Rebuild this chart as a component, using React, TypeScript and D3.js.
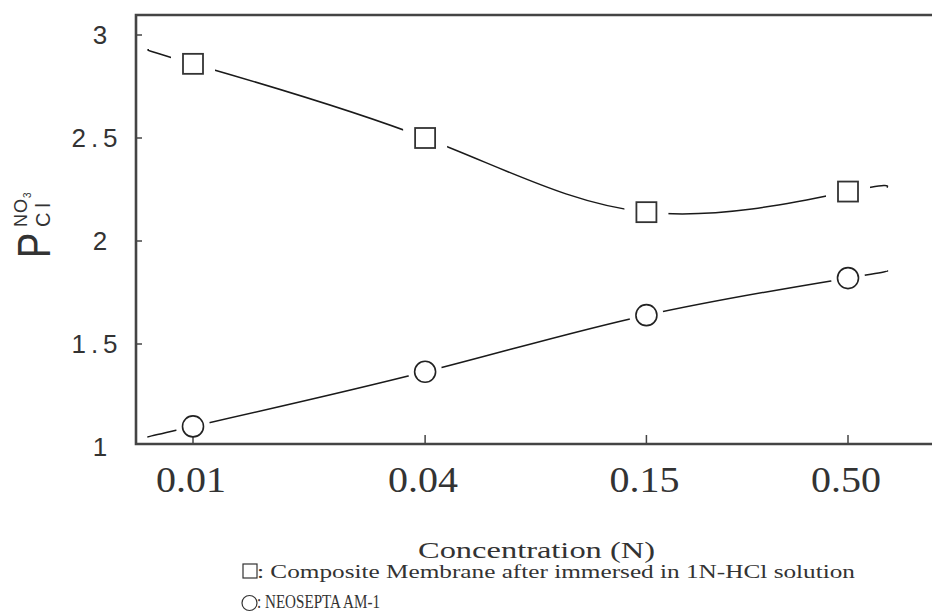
import React, { useRef, useEffect } from 'react';
import * as d3 from 'd3';

const concentrations = [0.01, 0.04, 0.15, 0.5];
const xTickLabels = ['0.01', '0.04', '0.15', '0.50'];
const compositeValues = [2.86, 2.5, 2.14, 2.24];
const neoseptaValues = [1.1, 1.365, 1.64, 1.82];
const yTicks = [1, 1.5, 2, 2.5, 3];
const yTickLabels = ['1', '1.5', '2', '2.5', '3'];
const legendLabels = [
  ': Composite Membrane after immersed in 1N-HCl solution',
  ': NEOSEPTA AM-1',
];

const App = () => {
  const chart = useRef<SVGSVGElement>(null);

  useEffect(() => {
    const width = 932;
    const height = 616;
    const left = 136;
    const top = 15;
    const bottom = 444;

    const svg = d3.select(chart.current);
    svg.selectAll('*').remove();
    svg.attr('width', width).attr('height', height);

    // log scale for concentration, linear for selectivity
    const x = d3.scaleLog().domain([0.01, 0.5]).range([193, 848]);
    const y = d3.scaleLinear().domain([1, 3]).range([447, 35]);

    const axisColor = '#444';
    const serif = 'Liberation Serif, Times New Roman, serif';
    const sans = 'Liberation Sans, Arial, sans-serif';

    // frame: left, top, bottom (right side open, cut off)
    svg.append('path')
      .attr('d', `M${width},${top}H${left}V${bottom}H${width}`)
      .attr('fill', 'none')
      .attr('stroke', axisColor)
      .attr('stroke-width', 2.6);

    // y ticks (inside)
    svg.selectAll('.ytick')
      .data(yTicks.slice(1))
      .enter().append('line')
      .attr('x1', left).attr('x2', left + 6)
      .attr('y1', d => y(d)).attr('y2', d => y(d))
      .attr('stroke', axisColor).attr('stroke-width', 1.5);

    svg.selectAll('.ylab')
      .data(yTicks)
      .enter().append('text')
      .attr('x', (d, i) => (yTickLabels[i].length > 1 ? 97 : 100))
      .attr('y', d => y(d))
      .attr('dy', '0.36em')
      .attr('text-anchor', 'middle')
      .attr('font-family', sans)
      .attr('font-size', 26)
      .attr('letter-spacing', (d, i) => (yTickLabels[i].length > 1 ? 5 : 0))
      .attr('fill', '#333')
      .text((d, i) => yTickLabels[i]);

    // x ticks (inside, pointing up)
    svg.selectAll('.xtick')
      .data(concentrations)
      .enter().append('line')
      .attr('x1', d => x(d)).attr('x2', d => x(d))
      .attr('y1', bottom).attr('y2', bottom - 9)
      .attr('stroke', axisColor).attr('stroke-width', 1.5);

    svg.selectAll('.xlab')
      .data(concentrations)
      .enter().append('text')
      .attr('x', d => x(d) - 2)
      .attr('y', 492)
      .attr('text-anchor', 'middle')
      .attr('font-family', serif)
      .attr('font-size', 35)
      .attr('textLength', 70)
      .attr('lengthAdjust', 'spacingAndGlyphs')
      .attr('fill', '#333')
      .text((d, i) => xTickLabels[i]);

    // x axis title
    svg.append('text')
      .attr('x', 418).attr('y', 558)
      .attr('font-family', serif)
      .attr('font-size', 24)
      .attr('textLength', 237)
      .attr('lengthAdjust', 'spacingAndGlyphs')
      .attr('fill', '#333')
      .text('Concentration  (N)');

    // y axis title: P with NO3 / Cl, rotated
    const yt = svg.append('g').attr('transform', 'translate(50,258) rotate(-90)');
    yt.append('text')
      .attr('x', 0).attr('y', 0)
      .attr('transform', 'scale(0.82,1)')
      .attr('font-family', sans)
      .attr('font-size', 46)
      .attr('fill', '#333')
      .text('P');
    const sup = yt.append('text')
      .attr('x', 31).attr('y', -23)
      .attr('font-family', sans)
      .attr('font-size', 18)
      .attr('letter-spacing', 1)
      .attr('fill', '#333');
    sup.append('tspan').text('NO');
    sup.append('tspan').attr('font-size', 10).attr('dy', 4).text('3');
    yt.append('text')
      .attr('x', 31).attr('y', 0)
      .attr('font-family', sans)
      .attr('font-size', 20)
      .attr('letter-spacing', 5)
      .attr('fill', '#333')
      .text('Cl');

    // mask: lines stop short of every marker (axis stays intact)
    const mask = svg.append('defs').append('mask')
      .attr('id', 'gaps').attr('maskUnits', 'userSpaceOnUse')
      .attr('x', 0).attr('y', 0).attr('width', width).attr('height', height);
    mask.append('rect').attr('width', width).attr('height', height).attr('fill', '#fff');
    concentrations.forEach((c, i) => {
      mask.append('rect')
        .attr('x', x(c) - 22).attr('y', y(compositeValues[i]) - 22)
        .attr('width', 44).attr('height', 44)
        .attr('fill', '#000');
      mask.append('circle')
        .attr('cx', x(c)).attr('cy', y(neoseptaValues[i])).attr('r', 17)
        .attr('fill', '#000');
    });

    // curves with short extrapolated tails past the end points
    const buildPath = (vals: number[]) => {
      const pts: [number, number][] = concentrations.map((c, i) => [x(c), y(vals[i])]);
      const [p0, p1] = pts;
      const p2 = pts[pts.length - 2];
      const p3 = pts[pts.length - 1];
      const kL = 44 / (p1[0] - p0[0]);
      const kR = 39 / (p3[0] - p2[0]);
      const start: [number, number] = [p0[0] - (p1[0] - p0[0]) * kL, p0[1] - (p1[1] - p0[1]) * kL];
      const end: [number, number] = [p3[0] + (p3[0] - p2[0]) * kR, p3[1] + (p3[1] - p2[1]) * kR];
      return d3.line().curve(d3.curveNatural)([start, ...pts, end]);
    };

    [compositeValues, neoseptaValues].forEach(vals => {
      svg.append('path')
        .attr('d', buildPath(vals))
        .attr('fill', 'none')
        .attr('stroke', '#1a1a1a')
        .attr('stroke-width', 1.5)
        .attr('mask', 'url(#gaps)');
    });

    // markers
    svg.selectAll('.sq')
      .data(concentrations)
      .enter().append('rect')
      .attr('x', d => x(d) - 10)
      .attr('y', (d, i) => y(compositeValues[i]) - 10)
      .attr('width', 20).attr('height', 20)
      .attr('fill', '#fff')
      .attr('stroke', '#333').attr('stroke-width', 1.8);

    svg.selectAll('.ci')
      .data(concentrations)
      .enter().append('circle')
      .attr('cx', d => x(d))
      .attr('cy', (d, i) => y(neoseptaValues[i]))
      .attr('r', 10.5)
      .attr('fill', '#fff')
      .attr('stroke', '#222').attr('stroke-width', 1.6);

    // legend
    svg.append('rect')
      .attr('x', 243).attr('y', 564)
      .attr('width', 14).attr('height', 14)
      .attr('fill', 'none')
      .attr('stroke', '#333').attr('stroke-width', 1.2);
    svg.append('circle')
      .attr('cx', 249.5).attr('cy', 603).attr('r', 7.5)
      .attr('fill', 'none')
      .attr('stroke', '#333').attr('stroke-width', 1.2);

    svg.append('text')
      .attr('x', 257).attr('y', 578)
      .attr('font-family', serif)
      .attr('font-size', 18)
      .attr('textLength', 598)
      .attr('lengthAdjust', 'spacingAndGlyphs')
      .attr('fill', '#333')
      .text(legendLabels[0]);
    svg.append('text')
      .attr('x', 257).attr('y', 608)
      .attr('font-family', serif)
      .attr('font-size', 18)
      .attr('textLength', 123)
      .attr('lengthAdjust', 'spacingAndGlyphs')
      .attr('fill', '#333')
      .text(legendLabels[1]);
  }, []);

  return (
    <div style={{ position: 'absolute', left: 0, top: 0 }}>
      <svg ref={chart} style={{ display: 'block', background: '#fff' }}></svg>
    </div>
  );
};

export default App;
